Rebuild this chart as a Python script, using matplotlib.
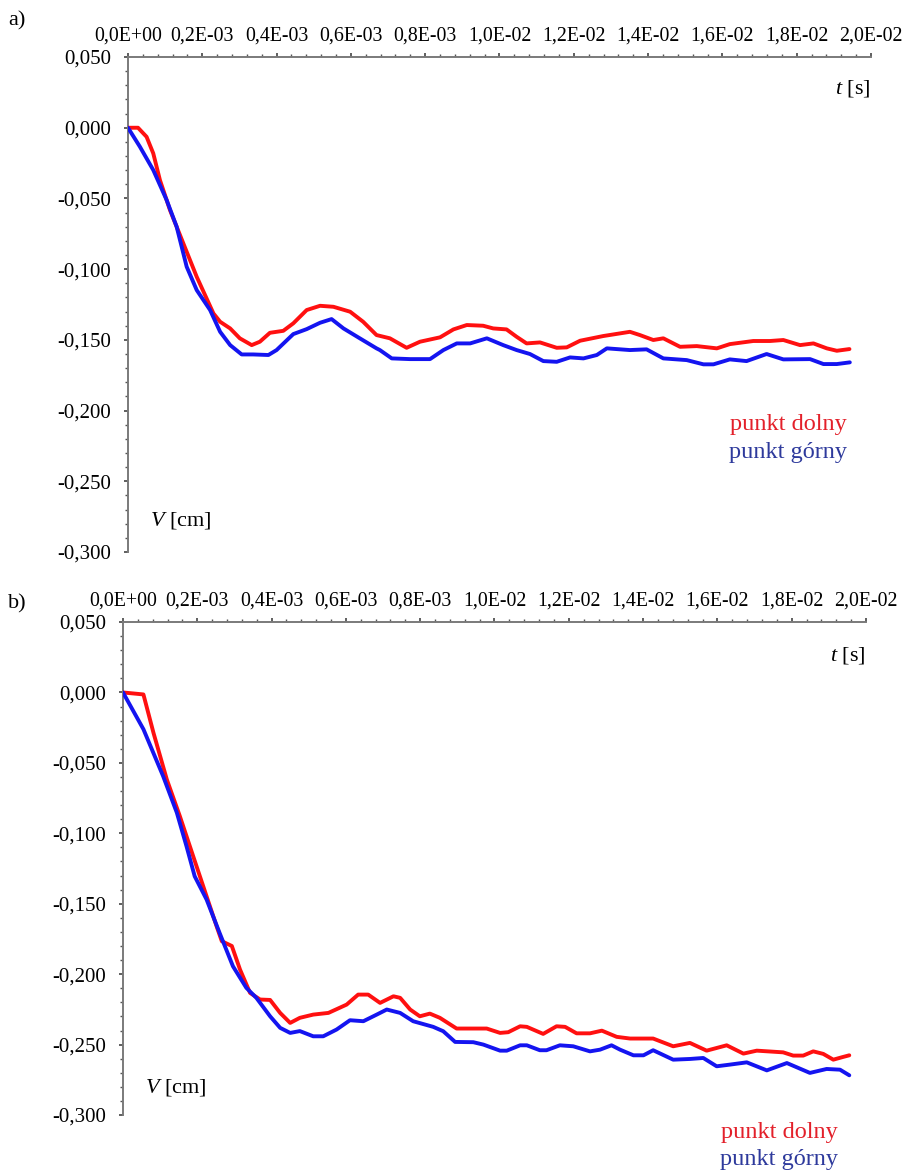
import matplotlib
matplotlib.use("Agg")
import matplotlib.pyplot as plt
from matplotlib.ticker import MultipleLocator, FixedLocator, FixedFormatter, FuncFormatter

plt.rcParams['font.family'] = ['Liberation Serif', 'DejaVu Serif']
plt.rcParams['mathtext.fontset'] = 'custom'
plt.rcParams['mathtext.rm'] = 'Liberation Serif'
plt.rcParams['mathtext.it'] = 'Liberation Serif:italic'

# time axis in milliseconds, displacement V in cm
x_tick_values = [0, 2, 4, 6, 8, 10, 12, 14, 16, 18, 20]
x_tick_labels = ['0,0E+00', '0,2E-03', '0,4E-03', '0,6E-03', '0,8E-03', '1,0E-02',
                 '1,2E-02', '1,4E-02', '1,6E-02', '1,8E-02', '2,0E-02']

# ---- panel a) ----
t_a_dolny = [0.00, 0.27, 0.50, 0.68, 0.86, 1.13, 1.49, 1.85, 2.30, 2.48, 2.75, 3.01, 3.33,
             3.55, 3.82, 4.18, 4.45, 4.81, 5.17, 5.53, 5.98, 6.33, 6.69, 7.05, 7.50, 7.86,
             8.40, 8.76, 9.12, 9.56, 9.83, 10.19, 10.46, 10.73, 11.09, 11.54, 11.81, 12.17,
             12.79, 13.51, 13.78, 14.14, 14.41, 14.86, 15.31, 15.85, 16.20, 16.83, 17.28,
             17.64, 18.09, 18.45, 18.81, 19.08, 19.42]
v_a_dolny = [0.0000, 0.0000, -0.0064, -0.0181, -0.0370, -0.0582, -0.0818, -0.1054, -0.1313,
             -0.1372, -0.1419, -0.1489, -0.1537, -0.1513, -0.1450, -0.1436, -0.1383, -0.1289,
             -0.1259, -0.1266, -0.1301, -0.1372, -0.1466, -0.1489, -0.1556, -0.1513, -0.1482,
             -0.1426, -0.1395, -0.1400, -0.1419, -0.1426, -0.1478, -0.1525, -0.1518, -0.1556,
             -0.1553, -0.1506, -0.1473, -0.1443, -0.1466, -0.1501, -0.1489, -0.1549, -0.1544,
             -0.1560, -0.1530, -0.1508, -0.1508, -0.1501, -0.1537, -0.1525, -0.1560, -0.1577,
             -0.1565]

t_a_gorny = [0.00, 0.32, 0.68, 1.04, 1.31, 1.58, 1.85, 2.21, 2.48, 2.75, 3.06, 3.37, 3.78,
             4.00, 4.45, 4.81, 5.17, 5.48, 5.80, 6.24, 6.69, 6.78, 7.10, 7.59, 8.13, 8.49,
             8.85, 9.21, 9.66, 10.10, 10.46, 10.82, 11.18, 11.54, 11.90, 12.26, 12.62, 12.89,
             13.51, 13.96, 14.41, 15.04, 15.49, 15.76, 16.20, 16.65, 17.19, 17.64, 18.36,
             18.72, 19.08, 19.43]
v_a_gorny = [0.0000, -0.0134, -0.0299, -0.0511, -0.0700, -0.0983, -0.1148, -0.1289, -0.1443,
             -0.1537, -0.1603, -0.1603, -0.1607, -0.1572, -0.1459, -0.1424, -0.1379, -0.1353,
             -0.1419, -0.1489, -0.1560, -0.1572, -0.1631, -0.1636, -0.1636, -0.1572, -0.1525,
             -0.1525, -0.1489, -0.1537, -0.1572, -0.1600, -0.1650, -0.1655, -0.1624, -0.1631,
             -0.1607, -0.1560, -0.1572, -0.1567, -0.1631, -0.1643, -0.1673, -0.1673, -0.1638,
             -0.1650, -0.1600, -0.1638, -0.1636, -0.1671, -0.1671, -0.1659]

# ---- panel b) ----
t_b_dolny = [0.00, 0.55, 0.82, 1.18, 1.53, 1.89, 2.25, 2.52, 2.66, 2.93, 3.15, 3.42, 3.69,
             3.96, 4.23, 4.50, 4.76, 5.12, 5.53, 6.02, 6.33, 6.60, 6.92, 7.28, 7.46, 7.73,
             7.99, 8.26, 8.53, 8.98, 9.79, 10.15, 10.37, 10.69, 10.87, 11.31, 11.67, 11.90,
             12.21, 12.57, 12.89, 13.29, 13.65, 14.27, 14.81, 15.26, 15.71, 16.25, 16.70,
             17.06, 17.77, 18.04, 18.31, 18.58, 18.85, 19.12, 19.35, 19.55]
v_b_dolny = [0.0000, -0.0014, -0.0286, -0.0618, -0.0878, -0.1163, -0.1447, -0.1660, -0.1766,
             -0.1800, -0.1967, -0.2133, -0.2180, -0.2183, -0.2275, -0.2346, -0.2310, -0.2287,
             -0.2275, -0.2216, -0.2145, -0.2145, -0.2204, -0.2157, -0.2168, -0.2251, -0.2299,
             -0.2280, -0.2310, -0.2386, -0.2386, -0.2417, -0.2412, -0.2370, -0.2374, -0.2424,
             -0.2370, -0.2374, -0.2420, -0.2420, -0.2401, -0.2445, -0.2457, -0.2457, -0.2512,
             -0.2488, -0.2543, -0.2505, -0.2564, -0.2543, -0.2555, -0.2578, -0.2578, -0.2548,
             -0.2566, -0.2607, -0.2590, -0.2576]

t_b_gorny = [0.00, 0.55, 1.08, 1.45, 1.71, 1.93, 2.25, 2.60, 2.96, 3.32, 3.59, 3.96, 4.23,
             4.50, 4.76, 5.12, 5.39, 5.75, 6.11, 6.47, 6.83, 7.10, 7.46, 7.81, 8.35, 8.62,
             8.94, 9.43, 9.70, 10.15, 10.33, 10.69, 10.87, 11.22, 11.40, 11.76, 12.12, 12.57,
             12.84, 13.15, 13.38, 13.74, 14.01, 14.27, 14.81, 15.26, 15.62, 15.98, 16.34,
             16.79, 17.33, 17.87, 18.49, 18.94, 19.30, 19.55]
v_b_gorny = [0.0000, -0.0261, -0.0594, -0.0854, -0.1092, -0.1305, -0.1470, -0.1707, -0.1944,
             -0.2097, -0.2168, -0.2299, -0.2381, -0.2417, -0.2404, -0.2441, -0.2441, -0.2393,
             -0.2327, -0.2334, -0.2287, -0.2251, -0.2275, -0.2334, -0.2374, -0.2405, -0.2481,
             -0.2483, -0.2500, -0.2543, -0.2543, -0.2505, -0.2505, -0.2540, -0.2540, -0.2505,
             -0.2512, -0.2548, -0.2536, -0.2505, -0.2536, -0.2576, -0.2576, -0.2540, -0.2607,
             -0.2602, -0.2595, -0.2654, -0.2642, -0.2626, -0.2683, -0.2631, -0.2701, -0.2673,
             -0.2678, -0.2718]

legend_names = ['punkt dolny', 'punkt górny']

LINE_RED = '#ff1010'
LINE_BLUE = '#1414f0'
TEXT_RED = '#e3202a'
TEXT_BLUE = '#2e3a9c'
SPINE = '#7a7a7a'

fig = plt.figure(figsize=(9.09, 11.71), dpi=100)


def y_fmt(v, pos):
    return f'{v:.3f}'.replace('.', ',')


def setup_axes(ax):
    ax.set_xlim(0, 20)
    ax.set_ylim(-0.300, 0.050)
    for side in ('right', 'bottom'):
        ax.spines[side].set_visible(False)
    for side in ('left', 'top'):
        ax.spines[side].set_color(SPINE)
        ax.spines[side].set_linewidth(1.4)
    ax.xaxis.set_ticks_position('top')
    ax.xaxis.set_major_locator(FixedLocator(x_tick_values))
    ax.xaxis.set_major_formatter(FixedFormatter(x_tick_labels))
    ax.xaxis.set_minor_locator(MultipleLocator(0.4))
    ax.yaxis.set_major_locator(MultipleLocator(0.05))
    ax.yaxis.set_minor_locator(MultipleLocator(0.01))
    ax.yaxis.set_major_formatter(FuncFormatter(y_fmt))
    ax.tick_params(axis='x', which='major', direction='out', length=3, width=1.2,
                   color='#444444', labelsize=14.3, pad=5)
    ax.tick_params(axis='y', which='major', direction='out', length=3, width=1.2,
                   color='#444444', labelsize=15, pad=9)
    ax.tick_params(which='minor', direction='out', length=2, width=1.0, color='#555555')
    ax.set_facecolor('white')


panels = [
    dict(rect=[0.1408, 0.5286, 0.8174, 0.4227], tag='a)', tag_y=0.982,
         td=t_a_dolny, vd=v_a_dolny, tg=t_a_gorny, vg=v_a_gorny,
         leg_x=0.968, leg_y1=0.257, leg_y2=0.201, tlab=0.937, vlab=(0.03, 0.063)),
    dict(rect=[0.1353, 0.0478, 0.8174, 0.4210], tag='b)', tag_y=0.484,
         td=t_b_dolny, vd=v_b_dolny, tg=t_b_gorny, vg=v_b_gorny,
         leg_x=0.962, leg_y1=-0.035, leg_y2=-0.090, tlab=0.933, vlab=(0.03, 0.055)),
]

for p in panels:
    ax = fig.add_axes(p['rect'])
    setup_axes(ax)
    ax.plot(p['td'], p['vd'], color=LINE_RED, lw=2.8, solid_joinstyle='round',
            solid_capstyle='round', zorder=3)
    ax.plot(p['tg'], p['vg'], color=LINE_BLUE, lw=2.8, solid_joinstyle='round',
            solid_capstyle='round', zorder=4)
    ax.text(1.0, p['tlab'], r'$\mathit{t}$ [s]', transform=ax.transAxes, ha='right',
            va='center', fontsize=16)
    ax.text(p['vlab'][0], p['vlab'][1], r'$\mathit{V}$ [cm]', transform=ax.transAxes,
            ha='left', va='center', fontsize=16)
    ax.text(p['leg_x'], p['leg_y1'], legend_names[0], transform=ax.transAxes,
            ha='right', va='center', fontsize=17.5, color=TEXT_RED, clip_on=False)
    ax.text(p['leg_x'], p['leg_y2'], legend_names[1], transform=ax.transAxes,
            ha='right', va='center', fontsize=17.5, color=TEXT_BLUE, clip_on=False)
    fig.text(0.009, p['tag_y'], p['tag'], ha='left', va='center', fontsize=16)

fig.savefig('out.png', dpi=100, facecolor='white')
